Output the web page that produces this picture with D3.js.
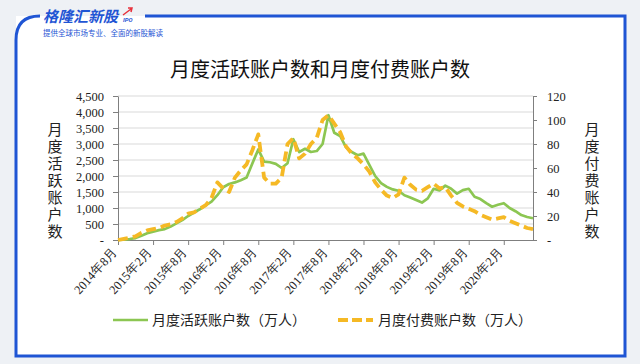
<!DOCTYPE html>
<html><head><meta charset="utf-8">
<script src="https://cdn.jsdelivr.net/npm/d3@7"></script>
<style>body{margin:0;background:#fff}svg{display:block}</style>
</head><body><svg id="c" width="640" height="364"></svg>
<script>
const categories = [
"2014年8月","2014年9月","2014年10月","2014年11月","2014年12月","2015年1月",
"2015年2月","2015年3月","2015年4月","2015年5月","2015年6月","2015年7月",
"2015年8月","2015年9月","2015年10月","2015年11月","2015年12月","2016年1月",
"2016年2月","2016年3月","2016年4月","2016年5月","2016年6月","2016年7月",
"2016年8月","2016年9月","2016年10月","2016年11月","2016年12月","2017年1月",
"2017年2月","2017年3月","2017年4月","2017年5月","2017年6月","2017年7月",
"2017年8月","2017年9月","2017年10月","2017年11月","2017年12月","2018年1月",
"2018年2月","2018年3月","2018年4月","2018年5月","2018年6月","2018年7月",
"2018年8月","2018年9月","2018年10月","2018年11月","2018年12月","2019年1月",
"2019年2月","2019年3月","2019年4月","2019年5月","2019年6月","2019年7月",
"2019年8月","2019年9月","2019年10月","2019年11月","2019年12月","2020年1月",
"2020年2月","2020年3月","2020年4月","2020年5月","2020年6月","2020年7月"];

const activeAccounts = [
0,10,30,60,130,210, 260,310,340,420,520,620,
750,860,960,1080,1200,1400, 1650,1750,1800,1870,1950,2400,
2830,2450,2430,2380,2250,2400, 3150,2750,2850,2750,2780,3000,
3900,3350,3250,2900,2750,2650, 2700,2350,2000,1780,1660,1580,
1540,1400,1330,1250,1170,1300, 1600,1550,1700,1600,1450,1560,
1600,1350,1280,1150,1040,1100, 1150,1000,900,780,720,680];

const paidAccounts = [
0,1,2,3,6,8, 9,10,12,13,15,18,
22,23,26,29,35,48, 43,40,52,58,63,75,
88,52,47,47,52,80, 85,68,72,80,85,100,
104,97,90,78,72,68, 63,57,48,42,37,35,
38,52,46,42,41,44, 47,43,44,37,31,28,
26,24,21,19,17,18, 19,16,14,12,10,9];

const tickLabels = ["2014年8月","2015年2月","2015年8月","2016年2月","2016年8月","2017年2月",
"2017年8月","2018年2月","2018年8月","2019年2月","2019年8月","2020年2月"];
const leftTicks = [0,500,1000,1500,2000,2500,3000,3500,4000,4500];
const rightTicks = [0,20,40,60,80,100,120];

const title = "月度活跃账户数和月度付费账户数";
const leftTitle = "月度活跃账户数";
const rightTitle = "月度付费账户数";
const seriesNames = ["月度活跃账户数（万人）","月度付费账户数（万人）"];

const svg = d3.select("#c");
const blue = "#1f55d4";
const green = "#8cc652";
const yellow = "#f5b925";
const serif = "'Liberation Serif','Times New Roman',serif";
const cjk = "'Noto Sans CJK SC','Noto Sans',sans-serif";

// background + frame
svg.append("rect").attr("width",640).attr("height",364).attr("fill","#eef1f5");
svg.append("rect").attr("x",16).attr("y",16).attr("width",609).attr("height",340).attr("fill","#fff");
svg.append("path").attr("d","M40,16 Q16,16 16,40 V356 H625 V16 H145")
  .attr("fill","none").attr("stroke",blue).attr("stroke-width",3);
svg.append("text").attr("x",43).attr("y",22).attr("font-family",cjk).attr("font-size",15)
  .attr("font-weight","bold").attr("font-style","italic").attr("fill",blue).text("格隆汇新股");
svg.append("text").attr("x",123).attr("y",22).attr("font-family","Roboto,sans-serif").attr("font-size",6)
  .attr("font-weight","bold").attr("font-style","italic").attr("fill",blue).text("IPO");
svg.append("path").attr("d","M123,15 L131,9 M128,8 L132,8 L131,12").attr("stroke","#e8323c")
  .attr("stroke-width",1.5).attr("fill","none");
svg.append("text").attr("x",43).attr("y",36).attr("font-family",cjk).attr("font-size",7.5)
  .attr("fill",blue).text("提供全球市场专业、全面的新股解读");

const x = d3.scalePoint().domain(categories).range([118,533]);
const yL = d3.scaleLinear().domain([0,4500]).range([240,96]);
const yR = d3.scaleLinear().domain([0,120]).range([240,96]);

// gridlines
svg.append("g").selectAll("line").data(leftTicks.filter(d=>d>0)).join("line")
  .attr("x1",118).attr("x2",533).attr("y1",d=>yL(d)).attr("y2",d=>yL(d))
  .attr("stroke","#d9d9d9").attr("stroke-width",1);

// left axis
const gL = svg.append("g").attr("transform","translate(118,0)")
  .call(d3.axisLeft(yL).tickValues(leftTicks).tickSize(5).tickSizeOuter(0).tickPadding(9)
    .tickFormat(d=>d===0?"-":d3.format(",")(d)));
// right axis
const gR = svg.append("g").attr("transform","translate(533,0)")
  .call(d3.axisRight(yR).tickValues(rightTicks).tickSize(4).tickSizeOuter(0).tickPadding(10)
    .tickFormat(d=>d===0?"-":d));
[gL,gR].forEach(g=>{
  g.selectAll("path,line").attr("stroke","#7f7f7f");
  g.selectAll("text").attr("font-family",serif).attr("font-size",12.5).attr("fill","#222");
});

// x axis
const gX = svg.append("g").attr("transform","translate(0,240)")
  .call(d3.axisBottom(x).tickValues(tickLabels).tickSize(5).tickSizeOuter(0).tickFormat(""));
gX.select("path").attr("stroke","#7f7f7f");
gX.selectAll("line").attr("stroke","#7f7f7f");
svg.append("g").selectAll("text").data(tickLabels).join("text")
  .attr("transform",d=>`translate(${x(d)-3},250) rotate(-48)`)
  .attr("text-anchor","end").attr("dy","0.3em")
  .attr("font-family",serif).attr("font-size",12.5).attr("fill","#222").text(d=>d);

// lines
const lineA = d3.line().x((d,i)=>x(categories[i])).y(d=>yL(d));
const lineP = d3.line().x((d,i)=>x(categories[i])).y(d=>yR(d));
svg.append("path").datum(activeAccounts).attr("d",lineA).attr("fill","none")
  .attr("stroke",green).attr("stroke-width",2.7).attr("stroke-linejoin","round");
svg.append("path").datum(paidAccounts).attr("d",lineP).attr("fill","none")
  .attr("stroke",yellow).attr("stroke-width",3.8).attr("stroke-dasharray","10,5").attr("stroke-linejoin","round");

// titles
svg.append("text").attr("x",320).attr("y",77).attr("text-anchor","middle")
  .attr("font-family",cjk).attr("font-size",20).attr("fill","#111").text(title);
[[leftTitle,55],[rightTitle,592]].forEach(([t,cx])=>{
  svg.append("text").attr("x",cx).attr("y",122)
    .style("writing-mode","vertical-rl").style("letter-spacing","2px")
    .attr("font-family",cjk).attr("font-size",15).attr("fill","#222").text(t);
});

// legend
const lg = svg.append("g");
lg.append("line").attr("x1",113).attr("x2",148).attr("y1",320).attr("y2",320)
  .attr("stroke",green).attr("stroke-width",2.7);
lg.append("text").attr("x",152).attr("y",320).attr("dy","0.35em").attr("font-family",cjk)
  .attr("font-size",14).attr("fill","#222").text(seriesNames[0]);
lg.append("line").attr("x1",338).attr("x2",373).attr("y1",320).attr("y2",320)
  .attr("stroke",yellow).attr("stroke-width",3.8).attr("stroke-dasharray","10,4");
lg.append("text").attr("x",378).attr("y",320).attr("dy","0.35em").attr("font-family",cjk)
  .attr("font-size",14).attr("fill","#222").text(seriesNames[1]);
</script></body></html>
